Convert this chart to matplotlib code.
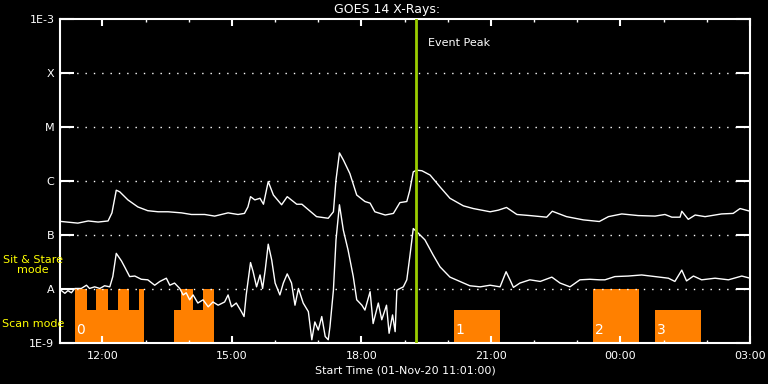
import matplotlib
matplotlib.use("Agg")
import matplotlib.pyplot as plt
import numpy as np

# ---- data (time in hours of 01-Nov-20, >24 = next day; flux as log10 W/m^2)
long_t = [11.05, 11.43, 11.67, 11.90, 12.13, 12.22, 12.32, 12.40, 12.59, 12.82, 13.05, 13.29,
          13.52, 13.83, 14.06, 14.37, 14.60, 14.91, 15.14, 15.29, 15.37, 15.43, 15.53, 15.65,
          15.73, 15.84, 15.96, 16.15, 16.28, 16.50, 16.62, 16.96, 17.23, 17.35, 17.41, 17.49,
          17.58, 17.73, 17.89, 18.08, 18.20, 18.31, 18.55, 18.74, 18.89, 19.05, 19.12, 19.20,
          19.28, 19.40, 19.59, 19.82, 20.05, 20.36, 20.59, 20.98, 21.17, 21.36, 21.60, 21.90,
          22.29, 22.42, 22.75, 23.14, 23.51, 23.72, 24.03, 24.41, 24.80, 25.03, 25.19, 25.38,
          25.42, 25.57, 25.73, 25.96, 26.34, 26.61, 26.77, 27.00]
long_log = [-6.75, -6.78, -6.74, -6.76, -6.74, -6.59, -6.17, -6.20, -6.35, -6.48, -6.55, -6.57,
            -6.57, -6.59, -6.62, -6.62, -6.65, -6.59, -6.62, -6.60, -6.48, -6.29, -6.35, -6.32,
            -6.43, -6.01, -6.26, -6.44, -6.29, -6.43, -6.43, -6.66, -6.69, -6.57, -5.98, -5.48,
            -5.61, -5.86, -6.26, -6.38, -6.41, -6.57, -6.63, -6.60, -6.40, -6.38, -6.17, -5.83,
            -5.80, -5.81, -5.89, -6.11, -6.32, -6.46, -6.51, -6.57, -6.54, -6.49, -6.62, -6.64,
            -6.67, -6.56, -6.66, -6.72, -6.75, -6.66, -6.61, -6.64, -6.65, -6.62, -6.67, -6.67,
            -6.56, -6.71, -6.63, -6.66, -6.61, -6.60, -6.51, -6.56]

short_t = [11.05, 11.13, 11.20, 11.28, 11.36, 11.51, 11.63, 11.70, 11.82, 11.94, 12.05, 12.17,
           12.24, 12.32, 12.44, 12.52, 12.63, 12.75, 12.90, 13.05, 13.21, 13.33, 13.48, 13.56,
           13.67, 13.79, 13.87, 13.94, 14.02, 14.10, 14.21, 14.33, 14.45, 14.56, 14.68, 14.83,
           14.91, 14.99, 15.10, 15.22, 15.28, 15.33, 15.43, 15.49, 15.57, 15.65, 15.71, 15.77,
           15.84, 15.92, 16.00, 16.11, 16.19, 16.28, 16.38, 16.46, 16.54, 16.65, 16.77, 16.85,
           16.92, 17.00, 17.08, 17.16, 17.23, 17.27, 17.35, 17.41, 17.49, 17.58, 17.69, 17.81,
           17.89, 18.01, 18.08, 18.20, 18.27, 18.39, 18.47, 18.58, 18.64, 18.72, 18.78, 18.82,
           18.97, 19.05, 19.12, 19.20, 19.32, 19.47, 19.66, 19.82, 20.05, 20.28, 20.51, 20.75,
           20.98, 21.21, 21.35, 21.44, 21.52, 21.67, 21.90, 22.14, 22.41, 22.60, 22.83, 23.06,
           23.29, 23.51, 23.64, 23.87, 24.18, 24.49, 24.80, 25.11, 25.26, 25.42, 25.53, 25.69,
           25.88, 26.19, 26.50, 26.81, 27.00]
short_log = [-8.03, -8.08, -8.03, -8.07, -7.99, -7.99, -7.93, -7.99, -7.96, -7.99, -7.94, -7.96,
             -7.77, -7.34, -7.48, -7.60, -7.77, -7.76, -7.82, -7.83, -7.93, -7.86, -7.80, -7.93,
             -7.89, -7.99, -8.11, -8.07, -8.20, -8.11, -8.26, -8.20, -8.33, -8.24, -8.30, -8.24,
             -8.11, -8.33, -8.26, -8.42, -8.51, -8.11, -7.51, -7.68, -7.96, -7.74, -7.99, -7.65,
             -7.17, -7.46, -7.89, -8.11, -7.89, -7.72, -7.89, -8.30, -7.99, -8.26, -8.42, -8.94,
             -8.61, -8.76, -8.51, -8.88, -8.94, -8.70, -8.02, -7.09, -6.44, -6.91, -7.28, -7.77,
             -8.20, -8.30, -8.39, -8.05, -8.64, -8.26, -8.57, -8.30, -8.82, -8.48, -8.79, -8.02,
             -7.96, -7.83, -7.40, -6.88, -6.97, -7.09, -7.37, -7.59, -7.78, -7.86, -7.94, -7.96,
             -7.93, -7.96, -7.68, -7.83, -7.97, -7.89, -7.83, -7.86, -7.78, -7.89, -7.96, -7.83,
             -7.82, -7.83, -7.83, -7.77, -7.76, -7.74, -7.77, -7.80, -7.86, -7.65, -7.85, -7.76,
             -7.83, -7.80, -7.83, -7.76, -7.80]

# observing mode blocks: start, end (hours), top (W/m^2)
mode_start = [11.36, 11.64, 11.85, 12.13, 12.37, 12.61, 12.84, 13.66, 13.82, 14.10, 14.33,
              20.14, 23.36, 24.80]
mode_end = [11.64, 11.85, 12.13, 12.37, 12.61, 12.84, 12.96, 13.82, 14.10, 14.33, 14.58,
            21.20, 24.42, 25.87]
mode_top = [1e-8, 4.1e-9, 1e-8, 4.1e-9, 1e-8, 4.1e-9, 1e-8, 4.1e-9, 1e-8, 4.1e-9, 1e-8,
            4.1e-9, 1e-8, 4.1e-9]
raster_t = [11.40, 20.18, 23.40, 24.84]
raster_lab = ["0", "1", "2", "3"]

peak_t = 19.26
t0, t1 = 11 + 1 / 60, 27.0

tick_t = [12, 15, 18, 21, 24, 27]
tick_lab = ["12:00", "15:00", "18:00", "21:00", "00:00", "03:00"]
ylev = [1e-9, 1e-8, 1e-7, 1e-6, 1e-5, 1e-4, 1e-3]
ylab = ["1E-9", "A", "B", "C", "M", "X", "1E-3"]

# ---- figure
fig = plt.figure(figsize=(7.68, 3.84), dpi=100)
fig.set_facecolor("black")
ax = fig.add_axes([60 / 768, 41 / 384, 690 / 768, 324 / 384])
ax.set_facecolor("black")
ax.set_yscale("log")
ax.set_xlim(t0, t1)
ax.set_ylim(1e-9, 1e-3)

for s, e, top in zip(mode_start, mode_end, mode_top):
    ax.bar(s, top - 1e-9, width=e - s, bottom=1e-9, align="edge", color="#ff8000",
           linewidth=0, zorder=1)
for t, lab in zip(raster_t, raster_lab):
    ax.text(t, 1.75e-9, lab, color="white", fontsize=10, va="center", ha="left", zorder=4)

for y in ylev[1:-1]:
    ax.axhline(y, color="white", lw=1, ls=(0, (1, 5)), zorder=2)

ax.plot(long_t, 10.0 ** np.array(long_log), color="white", lw=1, zorder=3)
ax.plot(short_t, 10.0 ** np.array(short_log), color="white", lw=1, zorder=3)

ax.axvline(peak_t, color="#9acd00", lw=2, zorder=5)
ax.text(peak_t + 0.27, 10 ** -3.44, "Event Peak", color="white", fontsize=8, va="center")

# axes styling
for sp in ax.spines.values():
    sp.set_color("white")
    sp.set_linewidth(1.5)
ax.set_xticks(tick_t)
ax.set_xticklabels(tick_lab)
ax.set_xticks(range(12, 28), minor=True)
ax.tick_params(axis="x", which="major", direction="in", length=5, width=1.5, top=True,
               colors="white", labelsize=8, pad=6)
ax.tick_params(axis="x", which="minor", direction="in", length=2.5, width=1, top=True,
               colors="white")
ax.set_yticks(ylev)
ax.set_yticklabels(ylab)
ax.yaxis.set_minor_locator(matplotlib.ticker.NullLocator())
ax.tick_params(axis="y", which="major", direction="in", length=10, width=1.5, right=True,
               colors="white", labelsize=8, pad=4)

ax.set_xlabel("Start Time (01-Nov-20 11:01:00)", color="white", fontsize=8, labelpad=3)
fig.text(387 / 768, 1 - 9 / 384, "GOES 14 X-Rays:", color="white", fontsize=9,
         ha="center", va="center")

fig.text(33 / 768, 1 - 265 / 384, "Sit & Stare\nmode", color="yellow", fontsize=8,
         ha="center", va="center", linespacing=1.0)
fig.text(2 / 768, 1 - 324 / 384, "Scan mode", color="yellow", fontsize=8,
         ha="left", va="center")

fig.savefig("out.png", dpi=100, facecolor="black")
